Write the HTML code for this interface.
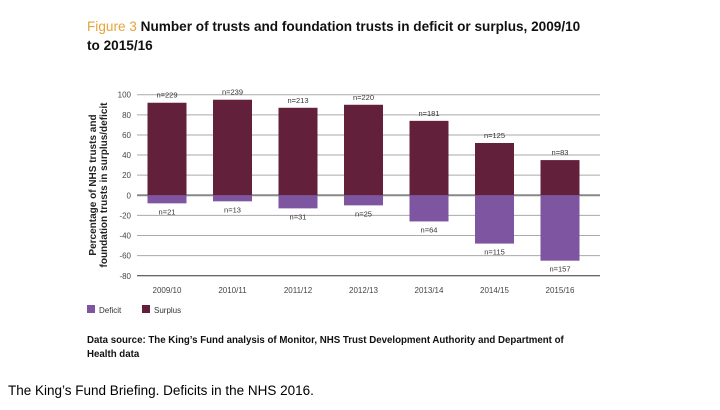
<!DOCTYPE html>
<html><head><meta charset="utf-8"><style>
body{margin:0;background:#fff;width:720px;height:405px;overflow:hidden;font-family:"Liberation Sans",sans-serif;}
</style></head><body>
<svg width="720" height="405" id="svg">
<text x="87" y="31" font-size="13.6" font-weight="bold" fill="#111"><tspan fill="#e8a33a" font-weight="normal">Figure 3</tspan> Number of trusts and foundation trusts in deficit or surplus, 2009/10</text>
<text x="87" y="50" font-size="13.6" font-weight="bold" fill="#111">to 2015/16</text>
<text transform="translate(96,185) rotate(-90)" font-size="10" font-weight="bold" fill="#222" text-anchor="middle"><tspan x="0" dy="0">Percentage of NHS trusts and</tspan><tspan x="0" dy="11">foundation trusts in surplus/deficit</tspan></text>
<g id="grid"></g><g id="bars"></g>
<rect x="87" y="305" width="8" height="8" fill="#7e55a0"/>
<text x="99" y="313" font-size="8" fill="#333">Deficit</text>
<rect x="142" y="305" width="8" height="8" fill="#63203a"/>
<text x="154" y="313" font-size="8" fill="#333">Surplus</text>
<text x="87" y="343" font-size="9.7" font-weight="bold" fill="#111">Data source: The King’s Fund analysis of Monitor, NHS Trust Development Authority and Department of</text>
<text x="87" y="357" font-size="9.7" font-weight="bold" fill="#111">Health data</text>
<text x="8" y="395" font-size="13.5" fill="#000">The King’s Fund Briefing. Deficits in the NHS 2016.</text>
</svg>
<script>
const categories=["2009/10","2010/11","2011/12","2012/13","2013/14","2014/15","2015/16"];
const surplus=[92,95,87,90,74,52,35];
const deficit=[-8,-6,-13,-10,-26,-48,-65];
const surplusN=["n=229","n=239","n=213","n=220","n=181","n=125","n=83"];
const deficitN=["n=21","n=13","n=31","n=25","n=64","n=115","n=157"];
const ticks=[100,80,60,40,20,0,-20,-40,-60,-80];
const NS="http://www.w3.org/2000/svg";
const y=v=>195.3-v*1.006;
const x0=137,pitch=65.5,bw=39;
const xc=i=>x0+30+i*pitch;
function mk(t,a,p){const e=document.createElementNS(NS,t);for(const k in a)e.setAttribute(k,a[k]);p.appendChild(e);return e;}
const g=document.getElementById('grid'),b=document.getElementById('bars');
ticks.forEach(t=>{
  const l=mk('line',{x1:x0,x2:600,y1:y(t),y2:y(t),stroke:t===0?'#888':(t===-80?'#333':'#aaa'),'stroke-width':t===0?2:1},g);
  
  
  const tx=mk('text',{x:131,y:y(t)+3,'font-size':8,fill:'#444','text-anchor':'end'},g);
  tx.textContent=t;
  
  
});
categories.forEach((c,i)=>{
  const cx=xc(i);
  const s=mk('rect',{x:cx-bw/2,y:y(surplus[i]),width:bw,height:y(0)-y(surplus[i]),fill:'#63203a'},b);
  
  
  const d=mk('rect',{x:cx-bw/2,y:y(0),width:bw,height:y(deficit[i])-y(0),fill:'#7e55a0'},b);
  
  
  const t1=mk('text',{x:cx,y:y(surplus[i])-5,'font-size':7.5,fill:'#333','text-anchor':'middle'},b);
  t1.textContent=surplusN[i];
  
  
  const t2=mk('text',{x:cx,y:y(deficit[i])+11,'font-size':7.5,fill:'#333','text-anchor':'middle'},b);
  t2.textContent=deficitN[i];
  
  
  const t3=mk('text',{x:cx,y:293,'font-size':8,fill:'#444','text-anchor':'middle'},b);
  t3.textContent=c;
  
  
});
</script>
</body></html>
